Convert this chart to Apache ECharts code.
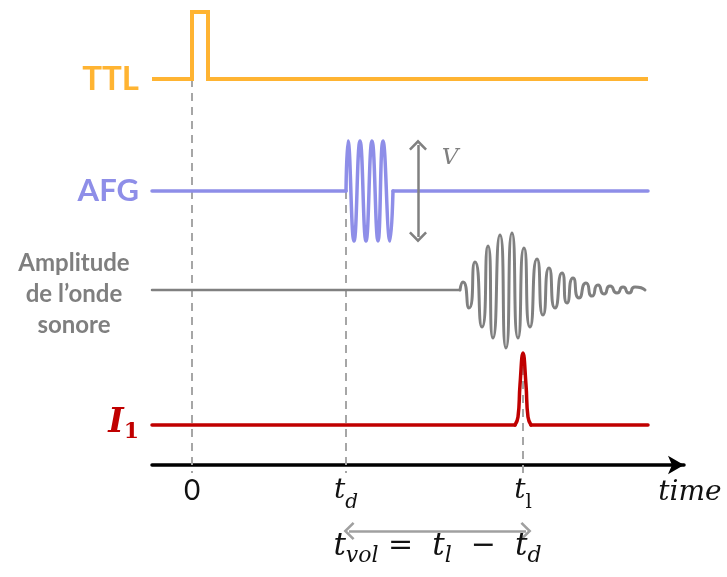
<!DOCTYPE html>
<html><head><meta charset="utf-8">
<script src="https://cdn.jsdelivr.net/npm/echarts@6/dist/echarts.min.js"></script>
<style>html,body{margin:0;padding:0;background:#fff}#c{width:727px;height:577px}</style>
</head><body><div id="c"></div>
<script>
// ---------------- data ----------------
// time axis: 0, t_d, t_l
const markerTimes  = [0, 154, 331];
const markerLabels = ['0', 't_d', 't_l'];
const channelNames = ['TTL', 'AFG', 'Amplitude de l’onde sonore', 'I1'];
const traceStart = -40, traceEnd = 456;

// TTL trigger (logic level)
const ttlTime  = [traceStart, 0, 0, 16, 16, traceEnd];
const ttlLevel = [0, 0, 1, 1, 0, 0];

// AFG burst (normalised amplitude, extrema)
const afgBurstTime  = [154, 156, 162, 168, 174, 180, 186, 191, 198, 201];
const afgBurstLevel = [0, 1, -1, 1, -1, 1, -1, 1, -1, 0];

// acoustic wave amplitude (extrema)
const soundTime = [268, 271, 277, 283, 290, 296, 301, 308, 314, 320, 326, 332, 338, 345, 351, 357, 363, 370, 375, 381, 387, 394, 400, 406, 412, 418, 425, 431, 437, 443, 453];
const soundAmp  = [0, 8, -18, 28, -37, 44, -48, 55, -58, 57, -48, 42, -37, 31, -25, 22, -18, 17, -13, 12, -8, 7, -6, 5, -4, 4, -3, 3, -3, 3, 0];

// I1 pulse
const i1Time = [323, 326, 328, 331, 334, 336, 339];
const i1Amp  = [0, 8, 40, 72, 40, 8, 0];

// ---------------- layout / style ----------------
const lane = { ttl: 386, afg: 274, snd: 175, i1: 40 };
const ttlScale = 67, afgScale = 50;
const guideBottom = -8, formulaY = -66, vArrowTime = 226;
const C = { ttl: '#FFB432', afg: '#8E8EE8', snd: '#808080', i1: '#C00000', guide: '#A6A6A6', arrow: '#808080' };
const SANS = 'Lato, "Open Sans", sans-serif';
const MATH = '"DejaVu Serif", serif';
const chevron = 'path://M0,9 L9,0 L18,9 L16.2,10.8 L9,3.6 L1.8,10.8 Z';

const pts = (xs, ys, off, k) => xs.map((x, i) => [x, off + ys[i] * k]);
const flat = (a, b, off) => [[a, off], [b, off]];
const td = markerTimes[1], tl = markerTimes[2];

const baseLine = (color, width) => ({ type: 'line', symbol: 'none', silent: true, clip: false,
  lineStyle: { color, width, cap: 'round', join: 'round' } });
const guideStyle = { color: C.guide, width: 2, type: [8, 6] };

const series = [
  // dashed guides
  Object.assign(baseLine(C.guide, 2), { data: [[markerTimes[0], lane.ttl], [markerTimes[0], guideBottom]], lineStyle: guideStyle }),
  Object.assign(baseLine(C.guide, 2), { data: [[td, lane.afg], [td, guideBottom]], lineStyle: guideStyle }),
  Object.assign(baseLine(C.guide, 2), { data: [[tl, lane.i1 + Math.max(...i1Amp)], [tl, guideBottom]], lineStyle: guideStyle,
    markLine: { silent: true, symbol: [chevron, chevron], symbolSize: [18, 11],
      lineStyle: { color: C.arrow, width: 2.5, type: 'solid' },
      label: { show: false },
      data: [
        [{ coord: [vArrowTime, lane.afg + afgScale - 4] }, { coord: [vArrowTime, lane.afg - afgScale + 4] }],
        [{ coord: [td + 3, formulaY], lineStyle: { color: '#A0A0A0' } }, { coord: [tl + 3, formulaY],
          label: { show: true, position: 'insideMiddleBottom', distance: 0,
            formatter: '{t|t}{s|vol}{o| =  }{t|t}{s|l}{o|  −  }{t|t}{s|d}',
            rich: {
              t: { fontFamily: MATH, fontStyle: 'italic', fontSize: 31, color: '#111', verticalAlign: 'top', lineHeight: 36 },
              s: { fontFamily: MATH, fontStyle: 'italic', fontSize: 22, color: '#111', verticalAlign: 'bottom', lineHeight: 15 },
              o: { fontFamily: MATH, fontSize: 30, color: '#111', verticalAlign: 'top', lineHeight: 36 }
            } } }]
      ] },
    markPoint: { silent: true, symbol: 'circle', symbolSize: 0,
      data: [{ coord: [vArrowTime + 32, lane.afg + 33], label: { show: true, position: 'inside', formatter: 'V',
        fontFamily: MATH, fontStyle: 'italic', fontSize: 23, color: '#7F7F7F' } }] } }),
  // TTL
  Object.assign(baseLine(C.ttl, 4), { data: pts(ttlTime, ttlLevel, lane.ttl, ttlScale), lineStyle: { color: C.ttl, width: 4, join: 'miter' } }),
  // AFG
  Object.assign(baseLine(C.afg, 3.5), { data: flat(traceStart, td, lane.afg) }),
  Object.assign(baseLine(C.afg, 3.5), { data: flat(afgBurstTime[afgBurstTime.length - 1], traceEnd, lane.afg) }),
  Object.assign(baseLine(C.afg, 3.5), { smooth: 0.5, data: pts(afgBurstTime, afgBurstLevel, lane.afg, afgScale) }),
  // sound
  Object.assign(baseLine(C.snd, 2.5), { data: flat(traceStart, soundTime[0], lane.snd) }),
  Object.assign(baseLine(C.snd, 3), { smooth: 0.8, data: pts(soundTime, soundAmp, lane.snd, 1) }),
  // I1
  Object.assign(baseLine(C.i1, 3.5), { data: flat(traceStart, i1Time[0], lane.i1) }),
  Object.assign(baseLine(C.i1, 3.5), { data: flat(i1Time[i1Time.length - 1], traceEnd, lane.i1) }),
  Object.assign(baseLine(C.i1, 3.5), { smooth: 0.5, data: pts(i1Time, i1Amp, lane.i1, 1) })
];

const laneValues = [lane.ttl, lane.afg, lane.snd, lane.i1];
const laneLabel = v => {
  const i = laneValues.indexOf(v);
  if (i === 0) return '{ttl|' + channelNames[0] + '}';
  if (i === 1) return '{afg|' + channelNames[1] + '}';
  if (i === 2) return '{snd|Amplitude}\n{snd|de l’onde}\n{snd|sonore}';
  if (i === 3) return '{iI|I}{i1|1}';
  return '';
};
const tickLabel = v => {
  const i = markerTimes.indexOf(v);
  if (i === 0) return '{n|0}';
  if (i === 1) return '{t|t}{sd|d}';
  if (i === 2) return '{t|t}{sl|l}';
  return '';
};

const chart = echarts.init(document.getElementById('c'), null, { renderer: 'canvas' });
chart.setOption({
  animation: false,
  backgroundColor: '#fff',
  grid: { left: 152, right: 43, top: 0, bottom: 0, containLabel: false, outerBoundsMode: 'none' },
  xAxis: {
    type: 'value', min: -40, max: 492, position: 'bottom', offset: -112,
    axisLine: { show: true, onZero: false, symbol: ['none', 'arrow'], symbolSize: [14, 16],
      lineStyle: { color: '#000', width: 3.5 } },
    axisTick: { show: false }, splitLine: { show: false },
    axisLabel: { customValues: markerTimes, margin: 12, formatter: tickLabel,
      rich: {
        n: { fontFamily: SANS, fontSize: 28, color: '#111', verticalAlign: 'top', lineHeight: 36 },
        t: { fontFamily: MATH, fontStyle: 'italic', fontSize: 28, color: '#111', verticalAlign: 'top', lineHeight: 36 },
        sd: { fontFamily: MATH, fontStyle: 'italic', fontSize: 20, color: '#111', verticalAlign: 'bottom', lineHeight: 14 },
        sl: { fontFamily: MATH, fontSize: 20, color: '#111', verticalAlign: 'bottom', lineHeight: 14 }
      } },
    name: 'time', nameLocation: 'end', nameGap: 6,
    nameTextStyle: { fontFamily: MATH, fontStyle: 'italic', fontSize: 28, color: '#111', align: 'center', verticalAlign: 'top', padding: [14, 0, 0, 0] }
  },
  yAxis: {
    type: 'value', min: -112, max: 465,
    axisLine: { show: false }, axisTick: { show: false }, splitLine: { show: false },
    axisLabel: { customValues: laneValues, margin: 13, formatter: laneLabel,
      rich: {
        ttl: { fontFamily: SANS, fontWeight: 'bold', fontSize: 33, color: C.ttl },
        afg: { fontFamily: SANS, fontWeight: 'bold', fontSize: 31, color: C.afg },
        snd: { fontFamily: SANS, fontWeight: 'bold', fontSize: 24, color: '#7F7F7F', lineHeight: 31, width: 130, align: 'center', padding: [8, 0, 0, 0] },
        iI: { fontFamily: MATH, fontWeight: 'bold', fontStyle: 'italic', fontSize: 33, color: C.i1, verticalAlign: 'top', lineHeight: 36 },
        i1: { fontFamily: MATH, fontWeight: 'bold', fontSize: 22, color: C.i1, verticalAlign: 'bottom', lineHeight: 16 }
      } }
  },
  series
});
</script></body></html>
